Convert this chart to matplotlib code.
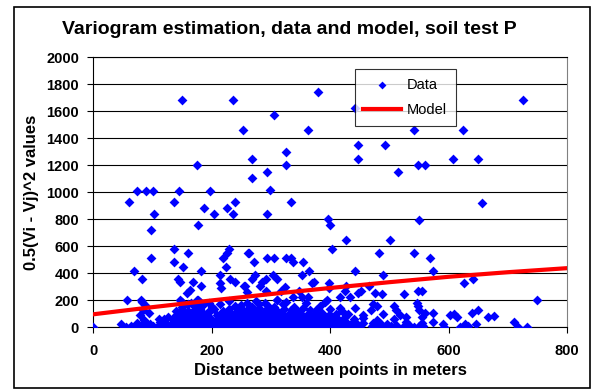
import numpy as np
import matplotlib.pyplot as plt
from matplotlib.patches import Rectangle

plt.rcParams['font.family'] = ['Liberation Sans', 'DejaVu Sans']

# Scattered pairs above the dense band (distance m, semivariance)
upper_pairs = [
    (0, 0), (150, 1680), (237, 1680), (254, 1460), (175, 1200), (74, 1010), (89, 1010),
    (101, 1010), (145, 1010), (198, 1010), (380, 1743), (306, 1568), (363, 1460),
    (269, 1244), (326, 1300), (326, 1200), (447, 1353), (447, 1244), (493, 1353),
    (269, 1106), (294, 1146), (299, 1015), (514, 1146), (442, 1620), (726, 1680),
    (542, 1460), (625, 1460), (548, 1200), (560, 1200), (607, 1244), (649, 1244),
    (60, 924), (103, 837), (205, 837), (188, 879), (227, 879), (239, 924), (237, 837),
    (136, 924), (98, 719), (177, 760), (136, 578), (160, 546), (98, 514), (137, 484),
    (152, 447), (69, 417), (83, 360), (183, 417), (230, 578), (226, 546), (220, 514),
    (224, 447), (262, 546), (215, 385), (231, 360), (240, 331), (214, 324), (216, 287),
    (169, 331), (182, 304), (144, 360), (147, 336), (164, 274), (158, 250), (147, 200),
    (57, 200), (81, 200), (178, 200), (255, 304), (48, 20), (111, 64), (119, 64),
    (335, 924), (293, 837), (397, 798), (400, 760), (427, 644), (501, 644), (403, 578),
    (264, 546), (272, 484), (293, 514), (306, 514), (326, 514), (335, 514), (338, 484),
    (355, 484), (365, 417), (352, 385), (442, 417), (482, 546), (489, 385), (273, 385),
    (268, 360), (292, 360), (304, 385), (310, 360), (286, 336), (282, 304), (257, 304),
    (260, 262), (292, 267), (318, 267), (324, 299), (347, 267), (369, 324), (373, 336),
    (398, 328), (398, 287), (427, 304), (425, 267), (448, 250), (453, 267), (466, 304),
    (476, 250), (487, 242), (525, 242), (338, 225), (352, 220), (363, 220), (417, 225),
    (434, 225), (395, 200), (310, 200), (656, 921), (551, 793), (542, 546), (568, 514),
    (574, 417), (642, 360), (627, 328), (548, 267), (555, 267), (750, 200),
]

# Dense band near zero, read row by row
band_0 = [
    (55, 3), (64, 10), (71, 0), (79, 6), (86, 14), (93, 2), (101, 8), (108, 0), (115, 12),
    (122, 5), (129, 1), (136, 9), (143, 4), (150, 15), (157, 0), (164, 7), (171, 11),
    (178, 3), (185, 6), (192, 0), (199, 13), (206, 2), (213, 9), (220, 5), (227, 0),
    (234, 10), (241, 4), (248, 8), (255, 1), (262, 14), (269, 6), (276, 0), (283, 11),
    (290, 3), (297, 7), (304, 2), (311, 12), (318, 0), (325, 5), (332, 9), (339, 1),
    (346, 13), (353, 4), (360, 8), (367, 0), (374, 6), (381, 10), (388, 2), (395, 15),
    (402, 3), (409, 7), (416, 0), (423, 9), (430, 4), (437, 12), (444, 1), (451, 6),
    (471, 10), (479, 2), (487, 8), (495, 0), (503, 5), (512, 13), (523, 3), (532, 9),
    (541, 1), (550, 7), (557, 11), (593, 4), (619, 2), (633, 8), (718, 0), (733, 3),
]
band_18 = [
    (133, 18), (146, 22), (160, 16), (174, 20), (188, 17), (202, 23), (216, 18), (230, 21),
    (244, 16), (258, 22), (272, 19), (286, 15), (300, 23), (314, 18), (328, 20), (342, 16),
    (356, 22), (370, 19), (384, 17), (398, 21), (412, 16), (426, 20), (440, 18), (486, 20),
    (534, 17),
]
band_30 = [
    (74, 28), (88, 35), (97, 22), (113, 40), (121, 30), (131, 25), (139, 44), (147, 33),
    (155, 21), (163, 38), (171, 27), (179, 42), (187, 30), (195, 24), (203, 36), (211, 45),
    (219, 26), (227, 32), (235, 40), (243, 23), (251, 37), (259, 29), (267, 43), (275, 25),
    (283, 34), (291, 21), (299, 39), (307, 31), (315, 26), (323, 44), (331, 35), (339, 22),
    (347, 30), (355, 41), (363, 27), (371, 36), (379, 24), (387, 38), (395, 32), (403, 20),
    (411, 42), (419, 29), (427, 35), (435, 23), (443, 40), (455, 28), (472, 33), (497, 25),
    (528, 38), (555, 30), (574, 40), (590, 27), (628, 22), (646, 27), (711, 40),
]
band_45 = [
    (137, 46), (152, 48), (166, 44), (181, 47), (195, 45), (209, 49), (223, 44), (237, 47),
    (252, 45), (266, 48), (280, 43), (294, 47), (309, 45), (323, 49), (337, 44), (351, 47),
    (366, 45), (380, 48), (394, 44), (408, 47), (422, 45),
]
band_60 = [
    (86, 55), (126, 72), (135, 58), (143, 75), (151, 52), (159, 68), (167, 60), (175, 78),
    (183, 54), (191, 70), (199, 62), (207, 50), (215, 74), (223, 58), (231, 66), (239, 80),
    (247, 55), (255, 71), (263, 60), (271, 77), (279, 52), (287, 65), (295, 73), (303, 57),
    (311, 68), (319, 50), (327, 76), (335, 62), (343, 54), (351, 70), (359, 59), (367, 78),
    (375, 64), (383, 51), (391, 72), (399, 60), (407, 67), (415, 55), (425, 74), (440, 58),
    (455, 66), (480, 52), (508, 60), (528, 72), (555, 76), (615, 76), (666, 76), (677, 81),
]
band_80 = [
    (146, 82), (161, 80), (178, 84), (194, 81), (212, 79), (228, 83), (245, 80), (262, 82),
    (280, 79), (297, 84), (314, 81), (332, 83), (349, 80), (366, 82), (384, 79), (402, 83),
]
band_95 = [
    (80, 92), (95, 105), (140, 88), (148, 100), (156, 94), (164, 108), (172, 86), (180, 102),
    (188, 96), (196, 110), (210, 90), (218, 104), (226, 87), (234, 98), (242, 106), (250, 92),
    (258, 100), (266, 88), (274, 109), (282, 95), (290, 103), (298, 86), (306, 99), (314, 107),
    (322, 91), (330, 101), (338, 94), (350, 106), (362, 89), (374, 98), (386, 104), (398, 92),
    (410, 100), (430, 95), (455, 89), (490, 96), (518, 89), (561, 106), (573, 106), (603, 89),
    (609, 101), (639, 106),
]
band_130 = [
    (84, 130), (140, 120), (150, 135), (160, 118), (170, 128), (180, 138), (195, 122),
    (205, 132), (220, 116), (230, 136), (245, 125), (255, 118), (262, 134), (270, 124),
    (280, 140), (290, 117), (300, 130), (310, 122), (322, 137), (335, 126), (345, 119),
    (367, 126), (377, 126), (400, 133), (420, 118), (470, 130), (512, 126), (551, 126),
    (649, 126),
]
band_160 = [
    (88, 165), (150, 150), (160, 170), (172, 155), (185, 162), (200, 148), (215, 172),
    (240, 158), (250, 166), (268, 150), (280, 174), (295, 160), (305, 152), (320, 168),
    (340, 146), (354, 140), (383, 160), (417, 140), (442, 140), (479, 155), (508, 155),
    (549, 155),
]
band_190 = [
    (82, 185), (150, 190), (165, 178), (175, 198), (180, 185), (195, 176), (230, 192),
    (260, 182), (275, 196), (290, 180), (310, 200), (325, 188), (360, 178), (392, 184),
    (473, 175), (546, 180),
]

# Fitted model curve
model_dist = [0, 100, 200, 300, 400, 500, 600, 700, 800]
model_gamma = [95, 148, 198, 245, 290, 333, 373, 407, 437]

all_pairs = (upper_pairs + band_0 + band_18 + band_30 + band_45 + band_60 + band_80
             + band_95 + band_130 + band_160 + band_190)
data = np.array(all_pairs, dtype=float)

fig = plt.figure(figsize=(6.0, 3.89), dpi=100)
fig.patch.set_facecolor('white')
ax = fig.add_axes([0.155, 0.159, 0.79, 0.694])

ax.grid(True, axis='y', color='black', linewidth=0.8, zorder=0)
ax.set_axisbelow(True)

ax.scatter(data[:, 0], data[:, 1], marker='D', s=25, color='#0000FF', linewidths=0,
           zorder=3, label='Data')
ax.plot(model_dist, model_gamma, color='#FF0000', linewidth=3, zorder=4, label='Model')

ax.set_xlim(0, 800)
ax.set_ylim(0, 2000)
ax.set_xticks(np.arange(0, 801, 200))
ax.set_yticks(np.arange(0, 2001, 200))
ax.tick_params(axis='both', labelsize=10.5, length=4, width=0.8, direction='out')
ax.tick_params(axis='y', pad=6)
ax.tick_params(axis='x', pad=8)
for lab in ax.get_xticklabels() + ax.get_yticklabels():
    lab.set_fontweight('bold')

ax.spines['left'].set_color('black')
ax.spines['bottom'].set_color('black')
ax.spines['top'].set_color('black')
ax.spines['right'].set_color('#808080')

ax.set_xlabel('Distance between points in meters', fontsize=12, fontweight='bold', labelpad=4)
ax.set_ylabel('0.5(Vi - Vj)^2 values', fontsize=12, fontweight='bold', labelpad=5)
fig.text(0.483, 0.923, 'Variogram estimation, data and model, soil test P',
         ha='center', va='center', fontsize=14, fontweight='bold')

leg = ax.legend(loc='upper left', bbox_to_anchor=(0.552, 0.955), frameon=True, fancybox=False,
                fontsize=10.5, handlelength=2.6, borderpad=0.6, labelspacing=0.75,
                handletextpad=0.4, borderaxespad=0, markerscale=0.8)
leg.get_frame().set_edgecolor('black')
leg.get_frame().set_linewidth(0.8)

fig.patches.append(Rectangle((0.024, 0.003), 0.96, 0.979, transform=fig.transFigure,
                             fill=False, edgecolor='black', linewidth=1.2))

fig.savefig('out.png', dpi=100)
